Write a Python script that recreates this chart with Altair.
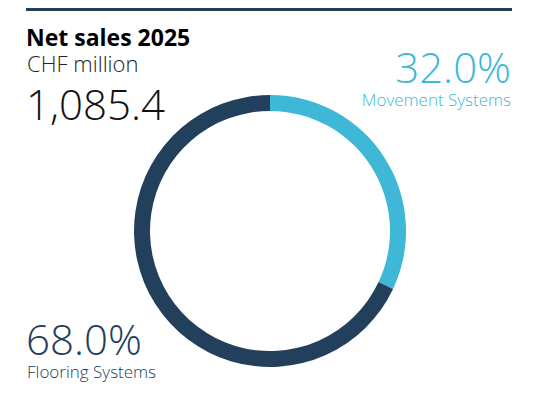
import altair as alt
import pandas as pd

segments = ["Movement Systems", "Flooring Systems"]
shares = [32.0, 68.0]
colors = ["#3EB8D6", "#22405B"]
title_text = "Net sales 2025"
unit_text = "CHF million"
total_text = "1,085.4"

DARK = "#22405B"
LIGHT = "#3EB8D6"
FONT = "Open Sans"

df = pd.DataFrame({"segment": segments, "share": shares, "idx": [0, 1]})

donut = alt.Chart(df).mark_arc(innerRadius=120, outerRadius=136).encode(
    theta=alt.Theta("share:Q", stack=True),
    color=alt.Color("segment:N", scale=alt.Scale(domain=segments, range=colors), legend=None),
    order=alt.Order("idx:Q"),
    x=alt.value(262),
    y=alt.value(223),
)

bar_df = pd.DataFrame({"k": [0]})
topbar = alt.Chart(bar_df).mark_rect(color=DARK).encode(
    x=alt.value(18), x2=alt.value(504), y=alt.value(0), y2=alt.value(3)
)

def txt(text, x, y, size, color, weight="normal", align="left"):
    d = pd.DataFrame({"t": [text]})
    return alt.Chart(d).mark_text(
        align=align, baseline="alphabetic", fontSize=size, font=FONT,
        fontWeight=weight, color=color
    ).encode(text="t:N", x=alt.value(x), y=alt.value(y))

layers = [
    topbar,
    donut,
    txt(title_text, 18, 38, 23, "#000000", "bold"),
    txt(unit_text, 19, 64, 22, "#222222", 300),
    txt(total_text, 18, 112, 42, "#111111", 300),
    txt(f"{shares[0]:.1f}%", 503, 75, 42, LIGHT, 300, "right"),
    txt(segments[0], 503, 98, 17, LIGHT, 300, "right"),
    txt(f"{shares[1]:.1f}%", 18, 347, 42, DARK, 300),
    txt(segments[1], 19, 370, 17, DARK, 300),
]

chart = alt.layer(*layers).properties(
    width=523, height=388, padding=0, autosize="none", background="white"
).configure_view(stroke=None)

chart.save("out.html", embed_options={"renderer": "svg", "actions": False})
